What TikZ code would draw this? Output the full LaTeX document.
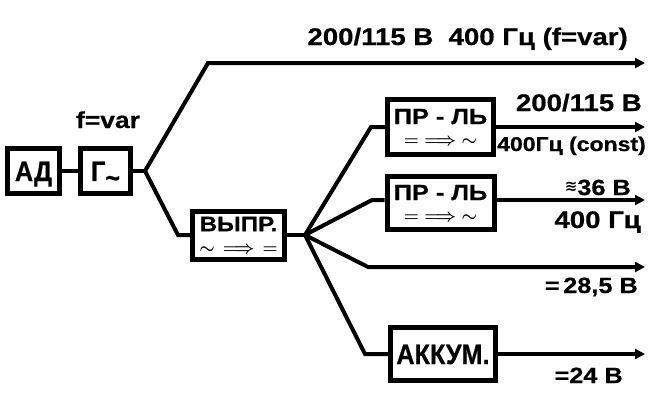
\documentclass[tikz,border=0pt]{standalone}
\usepackage{fontspec}
\newfontfamily\lblfont{Liberation Sans}[FakeStretch=1.15, FakeBold=0.6]
\newfontfamily\boxfont{Liberation Sans}[FakeStretch=0.9, FakeBold=0.6]
\newfontfamily\symfont{DejaVu Sans}
\usetikzlibrary{arrows.meta}
\newcommand\convsym[1]{{\fontsize{16}{16}\selectfont\boldmath$#1$}}
\tikzset{
    blk/.style={draw, line width=5pt, inner sep=0pt, align=center,
        font=\lblfont\bfseries\fontsize{22}{20}\selectfont},
    bigblk/.style={blk, font=\boxfont\bfseries\fontsize{28}{28}\selectfont,
        text height=20pt, text depth=0pt},
    lbl/.style={inner sep=0pt, font=\lblfont\bfseries\fontsize{24}{24}\selectfont},
    wire/.style={line width=4pt},
    feed/.style={wire, -{Triangle[length=10pt,width=10pt]}},
}
\begin{document}
\begin{tikzpicture}[x=1pt, y=-1pt]
            \useasboundingbox (0,0) rectangle (650,400);

            % blocks
            \node[bigblk, minimum width=52pt, minimum height=45pt] (ad) at (33.5,171) {АД};
            \node[bigblk, minimum width=50pt, minimum height=45pt] (gen) at (105.5,171) {Г\raisebox{-0.23em}{\textasciitilde}};
            \node[blk, minimum width=92pt, minimum height=48pt, font=\lblfont\bfseries\fontsize{21}{20}\selectfont] (vypr) at (238.5,235) {ВЫПР.\\[2pt]\convsym{\sim\enspace\Longrightarrow\enspace=}};
            \node[blk, minimum width=106pt, minimum height=55pt] (prl1) at (440.5,127) {ПР - ЛЬ\\[1pt]\convsym{=\;\Longrightarrow\;\sim}};
            \node[blk, minimum width=107pt, minimum height=53pt] (prl2) at (440.5,203) {ПР - ЛЬ\\[1pt]\convsym{=\;\Longrightarrow\;\sim}};
            \node[bigblk, minimum width=105pt, minimum height=53pt] (akk) at (443,354) {АККУМ.};

            % branch points and line ends
            \coordinate (j1) at (145,171);
            \coordinate (j2) at (305,235);
            \coordinate (c2) at (372,200);
            \coordinate (e1) at (645,63);
            \coordinate (e2) at (645,127);
            \coordinate (e3) at (645,200);
            \coordinate (e4) at (645,267);
            \coordinate (e5) at (645,354);

            \draw[wire] (ad) -- (gen);
            \draw[wire] (gen) -- (j1);
            \draw[feed] (j1) -- (208,63) -- (e1);
            \draw[wire] (j1) -- (178,235) -- (vypr);
            \draw[wire] (vypr) -- (j2);
            \draw[wire] (j2) -- (371,127) -- (prl1);
            \draw[wire] (j2) -- (c2) -- (c2 -| prl2.west);
            \draw[feed] (j2) -- (368,267) -- (e4);
            \draw[wire] (j2) -- (365,354) -- (akk);
            \draw[feed] (prl1) -- (e2);
            \draw[feed] (c2 -| prl2.east) -- (e3);
            \draw[feed] (akk) -- (e5);

            % labels
            \node[lbl, anchor=base east] (ltop) at (628,45) {200/115 В\ \ 400 Гц (f=var)};
            \node[lbl, anchor=base, font=\lblfont\bfseries\fontsize{23}{23}\selectfont] (lvar) at (108,128) {f=var};
            \node[lbl, anchor=base east] (lv1) at (642,111) {200/115 В};
            \node[lbl, anchor=base east, font=\lblfont\bfseries\fontsize{20}{20}\selectfont] (lf1) at (646,151) {400Гц (const)};
            \node[lbl, anchor=base east, font=\lblfont\bfseries\fontsize{22}{22}\selectfont] (lv2) at (631,195) {\raisebox{4pt}{\symfont\fontsize{15}{15}\selectfont ≋}36 В};
            \node[lbl, anchor=base east] (lf2) at (641,228) {400 Гц};
            \node[lbl, anchor=base east, font=\lblfont\bfseries\fontsize{22}{22}\selectfont] (lv3) at (638,293) {=\,28,5 В};
            \node[lbl, anchor=base east, font=\lblfont\bfseries\fontsize{22}{22}\selectfont] (lv4) at (623,383) {=24 В};
\end{tikzpicture}
\end{document}
